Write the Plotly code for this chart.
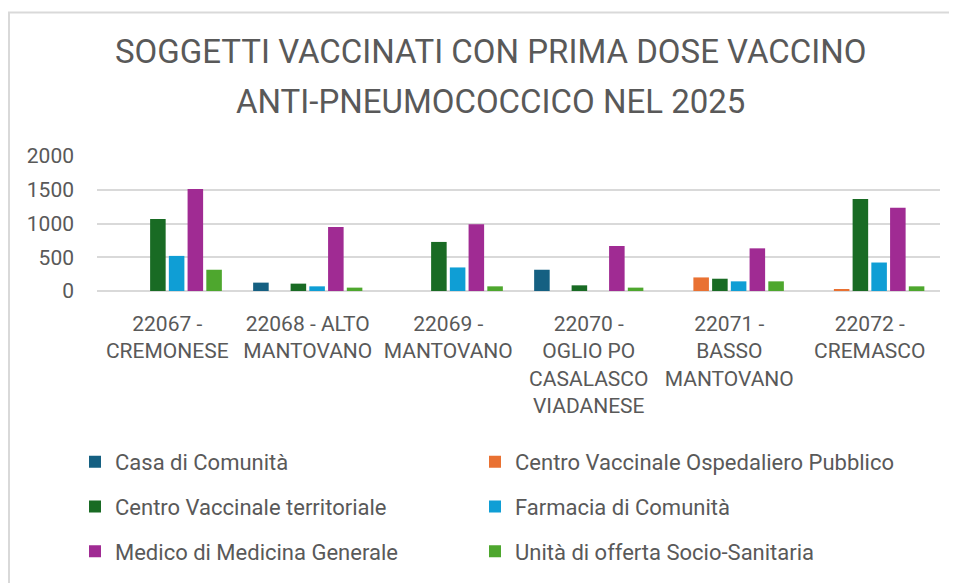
import plotly.graph_objects as go

# categories (health districts)
districts = [
    "22067 -<br>CREMONESE",
    "22068 - ALTO<br>MANTOVANO",
    "22069 -<br>MANTOVANO",
    "22070 -<br>OGLIO PO<br>CASALASCO<br>VIADANESE",
    "22071 -<br>BASSO<br>MANTOVANO",
    "22072 -<br>CREMASCO",
]

# values per vaccination site type
casa_comunita = [0, 124, 0, 315, 0, 0]
centro_osp = [0, 0, 0, 0, 201, 30]
centro_terr = [1065, 109, 727, 84, 182, 1363]
farmacia = [520, 69, 349, 0, 143, 422]
medico = [1510, 950, 990, 667, 632, 1235]
unita_socio = [315, 50, 69, 50, 143, 69]

series_names = [
    "Casa di Comunità",
    "Centro Vaccinale Ospedaliero Pubblico",
    "Centro Vaccinale territoriale",
    "Farmacia di Comunità",
    "Medico di Medicina Generale",
    "Unità di offerta Socio-Sanitaria",
]
series_values = [casa_comunita, centro_osp, centro_terr, farmacia, medico, unita_socio]
series_colors = ["#156082", "#E97132", "#196B24", "#0F9ED5", "#A02B93", "#4EA72E"]

W, H = 957, 583
OFF = 8  # page body margin
L, R, T, B = 89, 25, 148, 299.5
pw, ph = W - L - R, H - T - B


# screen pixel -> paper coordinate helpers
def px_x(x):
    return (x - OFF - L) / pw


def px_y(y):
    return (H - B - (y - OFF)) / ph


gray = "#595959"
font = "Roboto"

fig = go.Figure()
legends = {}
for i, (name, vals, color) in enumerate(zip(series_names, series_values, series_colors)):
    leg = "legend" if i == 0 else f"legend{i + 1}"
    fig.add_trace(go.Bar(
        x=districts, y=vals, name=name, legend=leg,
        marker=dict(color=color, line=dict(width=0)),
    ))
    # two legend columns, three rows
    legends[leg] = dict(
        xanchor="left", yanchor="middle",
        x=px_x(75 + 400 * (i % 2)), y=px_y(463 + 45 * (i // 2)),
        font=dict(family=font, size=22, color=gray),
        bgcolor="rgba(0,0,0,0)",
    )

fig.update_layout(
    width=W, height=H,
    margin=dict(l=L, r=R, t=T, b=B, autoexpand=False),
    paper_bgcolor="white", plot_bgcolor="white",
    barmode="group", bargap=0.2, bargroupgap=0.17,
    showlegend=True,
    xaxis=dict(
        showgrid=False, showline=False, ticks="",
        tickfont=dict(family=font, size=21, color=gray),
        ticklabelstandoff=18,
    ),
    yaxis=dict(
        range=[0, 2000], tickvals=[0, 500, 1000, 1500, 2000],
        showgrid=True, gridcolor="#d9d9d9", gridwidth=1.5,
        zeroline=True, zerolinecolor="#d9d9d9", zerolinewidth=1.5,
        showline=False, ticks="",
        tickfont=dict(family=font, size=21, color=gray),
        ticklabelstandoff=22,
    ),
    annotations=[
        dict(text="SOGGETTI VACCINATI CON PRIMA DOSE VACCINO",
             x=px_x(490), y=px_y(51), xref="paper", yref="paper",
             xanchor="center", yanchor="middle",
             showarrow=False, font=dict(family=font, size=33, color=gray)),
        dict(text="ANTI-PNEUMOCOCCICO NEL 2025",
             x=px_x(490), y=px_y(101), xref="paper", yref="paper",
             xanchor="center", yanchor="middle",
             showarrow=False, font=dict(family=font, size=33, color=gray)),
    ],
    shapes=[
        dict(type="rect", xref="paper", yref="paper",
             x0=px_x(9), x1=px_x(1000), y0=px_y(12), y1=px_y(640),
             line=dict(color="#d9d9d9", width=2), layer="below"),
    ],
)
fig.update_layout(**legends)

fig.write_html("out.html")
